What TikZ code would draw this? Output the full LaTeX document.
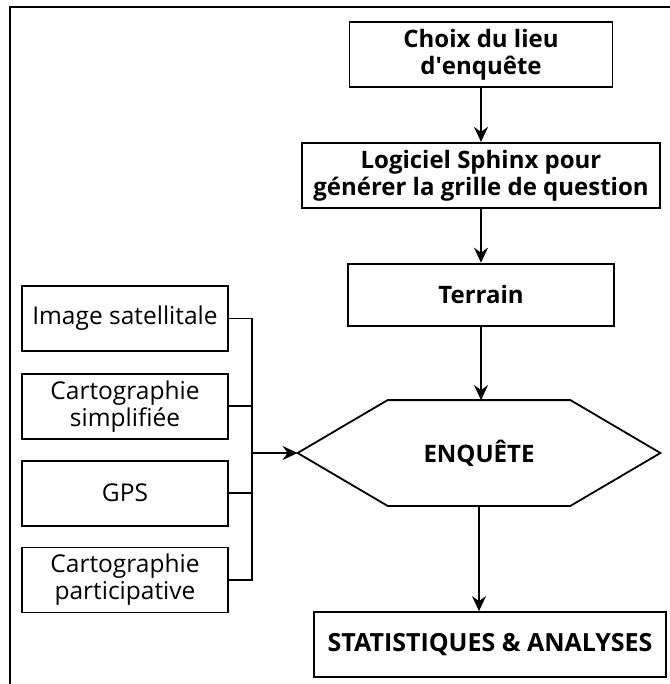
\documentclass[tikz,border=0pt]{standalone}
\usepackage{fontspec}
\setmainfont{Open Sans}
\usetikzlibrary{arrows.meta,positioning,calc}
\tikzset{box/.style={draw=black,line width=1.8pt,align=center,inner sep=0pt,minimum height=65pt,font=\fontsize{24}{27}\selectfont\bfseries},src/.style={box,minimum width=206pt,font=\fontsize{24.5}{27}\selectfont},flow/.style={-{Stealth[length=15pt,width=14pt,inset=5pt]},line width=1.8pt},link/.style={line width=1.8pt}}
\begin{document}
\begin{tikzpicture}[x=1pt,y=-1pt,node distance=54pt]
\useasboundingbox (0,0) rectangle (669,684);
\draw[line width=2.5pt] (10,700) -- (10,7) -- (690,7);
\node[box,minimum width=263pt] (choix) at (481,54.5) {Choix du lieu\\d\textquotesingle enquête};
\node[box,minimum width=358pt,below=of choix] (sphinx) {Logiciel Sphinx pour\\générer la grille de question};
\node[box,minimum width=266pt,minimum height=62pt,below=of sphinx] (terrain) {Terrain};
\node[box,draw=none,minimum width=361pt,minimum height=104pt] (enquete) at (479,453) {ENQUÊTE};
\draw[link] (enquete.west) -- ($(enquete.north west)+(90,0)$) -- ($(enquete.north east)+(-90,0)$) -- (enquete.east) -- ($(enquete.south east)+(-90,0)$) -- ($(enquete.south west)+(90,0)$) -- cycle;
\node[box,minimum width=352pt,font=\fontsize{25}{27}\selectfont\bfseries] (stats) at (490,644.5) {STATISTIQUES \& ANALYSES};
\node[src] (image) at (125,318.5) {Image satellitale};
\node[src,below=21pt of image] (simple) {Cartographie\\simplifiée};
\node[src,below=20pt of simple] (gps) {GPS};
\node[src,below=20pt of gps] (partic) {Cartographie\\participative};
\coordinate (bus) at (252,453);
\draw[flow] (choix)--(sphinx);
\draw[flow] (sphinx)--(terrain);
\draw[flow] (terrain.south)--(terrain.south |- enquete.north);
\draw[flow] (enquete.south)--(enquete.south |- stats.north);
\draw[link] (image.east) -- (image.east -| bus) -- (partic.east -| bus) -- (partic.east);
\draw[link] (simple.east) -- (simple.east -| bus);
\draw[link] (gps.east) -- (gps.east -| bus);
\draw[flow] (bus)--(enquete.west);
\end{tikzpicture}
\end{document}
